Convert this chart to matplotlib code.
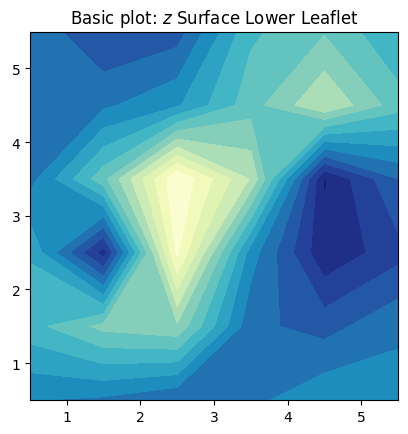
import numpy as np
import matplotlib
matplotlib.use("Agg")
import matplotlib.pyplot as plt

# grid centres (contourf with origin='lower' on a 6x6 surface)
x_centers = [0.5, 1.5, 2.5, 3.5, 4.5, 5.5]
y_centers = [0.5, 1.5, 2.5, 3.5, 4.5, 5.5]

# surface height, one row per y value (bottom row first)
z_y05 = [5.05, 4.8, 4.0, 4.7, 5.8, 5.45]
z_y15 = [7.6, 9.3, 9.8, 4.26, 3.6, 4.8]
z_y25 = [6.9, 1.5, 14.2, 5.5, 1.19, 2.63]
z_y35 = [4.6, 8.67, 14.9, 10.9, 0.9, 4.0]
z_y45 = [4.6, 4.8, 5.85, 8.56, 10.96, 8.45]
z_y55 = [4.75, 3.0, 3.5, 7.8, 8.9, 7.05]

levels = np.arange(0, 16)

z = np.array([z_y05, z_y15, z_y25, z_y35, z_y45, z_y55])

fig = plt.figure(figsize=(4.08, 4.35), dpi=100)
ax = fig.add_axes([30 / 408, 34 / 435, 368 / 408, 368.5 / 435])
ax.contourf(x_centers, y_centers, z, levels=levels, cmap="YlGnBu_r")
ax.set_xlim(0.5, 5.5)
ax.set_ylim(0.5, 5.5)
ax.set_xticks([1, 2, 3, 4, 5])
ax.set_yticks([1, 2, 3, 4, 5])
ax.set_title("Basic plot: $z$ Surface Lower Leaflet")

fig.savefig("out.png", dpi=100)
